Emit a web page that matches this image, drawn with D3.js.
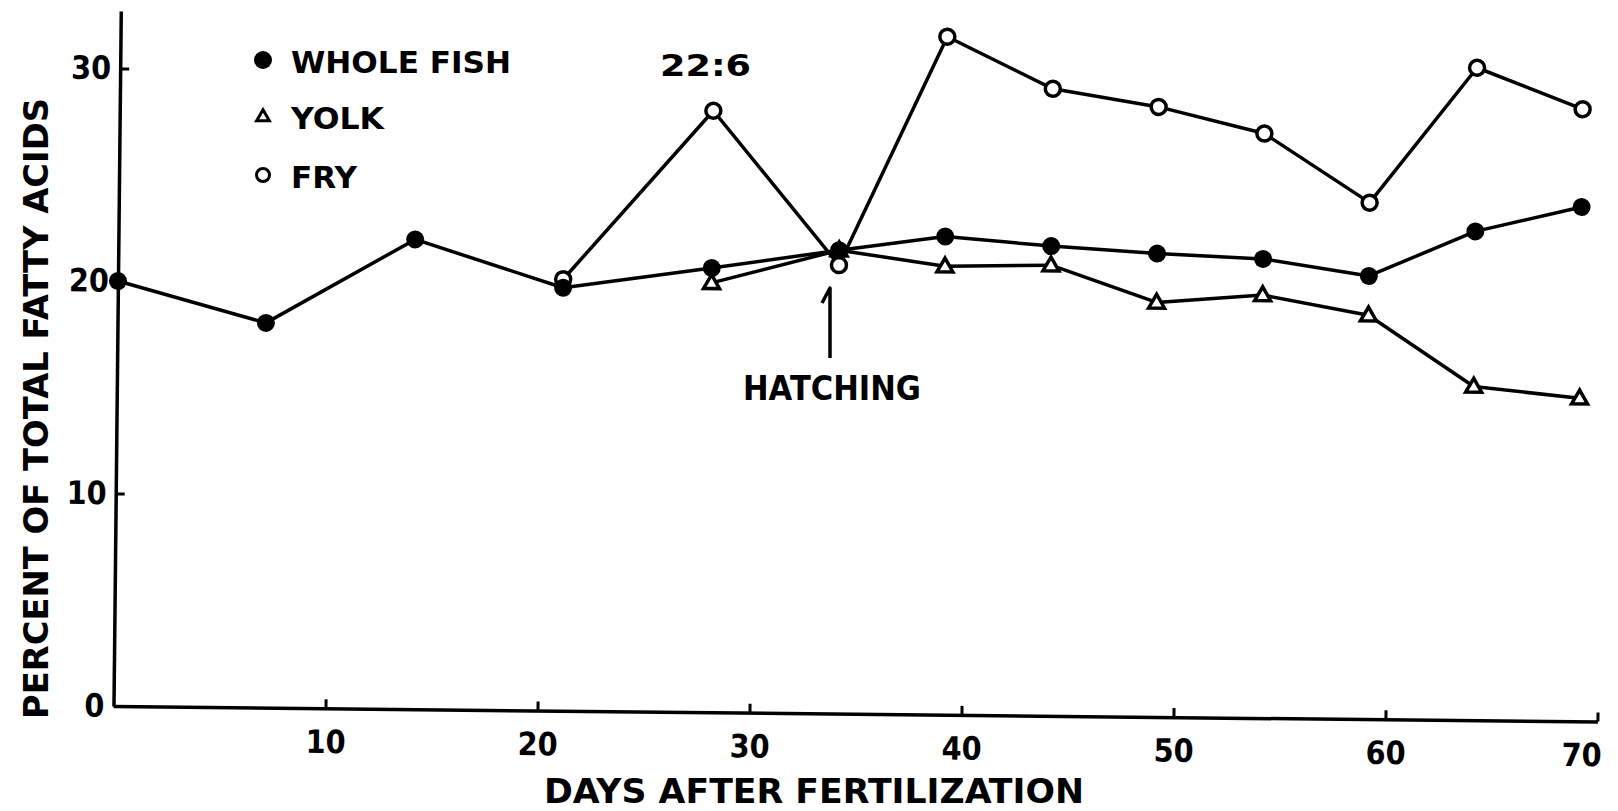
<!DOCTYPE html>
<html>
<head>
<meta charset="utf-8">
<script src="https://cdn.jsdelivr.net/npm/d3@7"></script>
<style>
  body { margin: 0; background: #fff; }
  text { font-family: "DejaVu Sans", sans-serif; font-weight: bold; fill: #000; }
</style>
</head>
<body>
<div id="chart"></div>
<script>
// data (22:6, percent of total fatty acids)
var fishDays = [0, 7, 14, 21, 28, 34, 39, 44, 49, 54, 59, 64, 69];
var wholeFish = [20.0, 18.1, 22.1, 19.9, 20.9, 21.8, 22.5, 22.1, 21.8, 21.6, 20.85, 23.0, 24.2];

var yolkDays = [28, 34, 39, 44, 49, 54, 59, 64, 69];
var yolk = [20.2, 21.8, 21.1, 21.2, 19.5, 19.9, 19.0, 15.7, 15.2];

var fryDays = [21, 28, 34, 39, 44, 49, 54, 59, 64, 69];
var fry = [20.3, 28.3, 21.1, 31.9, 29.5, 28.7, 27.5, 24.3, 30.7, 28.8];

var xTicks = [10, 20, 30, 40, 50, 60, 70];
var yTicks = [0, 10, 20, 30];

var W = 1618, H = 811;
var origin = {x: 113.5, y: 706};
var plotW = 1484, plotH = 695;
var tickFont = "'DejaVu Sans Condensed', 'Liberation Sans Narrow', 'DejaVu Sans', sans-serif";

var svg = d3.select("#chart")
  .append("svg")
    .attr("width", W)
    .attr("height", H);

// the scanned figure is tilted slightly, so the plot is turned with it
var g = svg.append("g")
    .attr("transform", "translate(" + origin.x + "," + origin.y + ") rotate(0.6)");

var x = d3.scaleLinear()
  .domain([0, 70])
  .range([0, plotW]);

var y = d3.scaleLinear()
  .domain([0, 32.7])
  .range([0, -plotH]);

// X axis
var xAxis = g.append("g")
  .call(d3.axisBottom(x).tickValues(xTicks).tickSizeInner(-9).tickSizeOuter(0).tickPadding(22));
xAxis.select(".domain").attr("stroke-width", 3.5);
xAxis.selectAll(".tick line").attr("stroke-width", 3);
xAxis.selectAll("text")
  .style("font-family", tickFont)
  .style("font-weight", "bold")
  .style("font-size", "32px");
// last label sits just left of the axis end
xAxis.selectAll(".tick text")
  .filter(function(d) { return d === 70; })
  .attr("text-anchor", "end")
  .attr("x", 4);

// Y axis
var yAxis = g.append("g")
  .call(d3.axisLeft(y).tickValues(yTicks).tickSizeInner(-9).tickSizeOuter(0).tickPadding(9));
yAxis.select(".domain").attr("stroke-width", 3.5);
yAxis.selectAll(".tick line").attr("stroke-width", 3);
yAxis.selectAll("text")
  .style("font-family", tickFont)
  .style("font-weight", "bold")
  .style("font-size", "32px");

var line = d3.line()
  .x(function(d) { return x(d[0]); })
  .y(function(d) { return y(d[1]); });

var fishPts = d3.zip(fishDays, wholeFish);
var yolkPts = d3.zip(yolkDays, yolk);
var fryPts = d3.zip(fryDays, fry);

[fryPts, yolkPts, fishPts].forEach(function(pts) {
  g.append("path")
    .datum(pts)
    .attr("d", line)
    .attr("fill", "none")
    .attr("stroke", "#000")
    .attr("stroke-width", 3.5)
    .attr("stroke-linejoin", "round");
});

var tri = d3.symbol().type(d3.symbolTriangle).size(110);

// yolk triangles
g.selectAll(".yolk")
  .data(yolkPts)
  .enter()
  .append("path")
    .attr("class", "yolk")
    .attr("d", tri)
    .attr("transform", function(d) { return "translate(" + x(d[0]) + "," + (y(d[1]) + 1) + ")"; })
    .attr("fill", "#fff")
    .attr("stroke", "#000")
    .attr("stroke-width", 3.5);

// fry open circles
g.selectAll(".fry")
  .data(fryPts)
  .enter()
  .append("circle")
    .attr("class", "fry")
    .attr("cx", function(d) { return x(d[0]); })
    .attr("cy", function(d) { return y(d[1]); })
    .attr("r", 7.5)
    .attr("fill", "#fff")
    .attr("stroke", "#000")
    .attr("stroke-width", 3.5);

// whole fish filled circles
g.selectAll(".fish")
  .data(fishPts)
  .enter()
  .append("circle")
    .attr("class", "fish")
    .attr("cx", function(d) { return x(d[0]); })
    .attr("cy", function(d) { return y(d[1]); })
    .attr("r", 9)
    .attr("fill", "#000");

// legend
var legend = svg.append("g");
legend.append("circle")
  .attr("cx", 263).attr("cy", 60).attr("r", 9).attr("fill", "#000");
legend.append("path")
  .attr("d", d3.symbol().type(d3.symbolTriangle).size(70))
  .attr("transform", "translate(263,117)")
  .attr("fill", "#fff").attr("stroke", "#000").attr("stroke-width", 3);
legend.append("circle")
  .attr("cx", 263).attr("cy", 175).attr("r", 6.5)
  .attr("fill", "#fff").attr("stroke", "#000").attr("stroke-width", 3);

legend.append("text").attr("x", 291).attr("y", 73)
  .attr("textLength", 220).attr("lengthAdjust", "spacingAndGlyphs")
  .style("font-size", "31px").text("WHOLE FISH");
legend.append("text").attr("x", 291).attr("y", 129)
  .attr("textLength", 93).attr("lengthAdjust", "spacingAndGlyphs")
  .style("font-size", "31px").text("YOLK");
legend.append("text").attr("x", 291).attr("y", 188)
  .attr("textLength", 66).attr("lengthAdjust", "spacingAndGlyphs")
  .style("font-size", "31px").text("FRY");

// 22:6 label
svg.append("text").attr("x", 660).attr("y", 76)
  .attr("textLength", 91).attr("lengthAdjust", "spacingAndGlyphs")
  .style("font-size", "31px").text("22:6");

// hatching marker
svg.append("path")
  .attr("d", "M822,303 L830,288 L830,358")
  .attr("fill", "none")
  .attr("stroke", "#000")
  .attr("stroke-width", 3.5)
  .attr("stroke-linejoin", "round");
svg.append("text").attr("x", 743).attr("y", 400)
  .attr("textLength", 178).attr("lengthAdjust", "spacingAndGlyphs")
  .style("font-size", "33px").text("HATCHING");

// axis titles
svg.append("text")
  .attr("x", 544).attr("y", 803)
  .attr("textLength", 540).attr("lengthAdjust", "spacingAndGlyphs")
  .style("font-size", "34px")
  .text("DAYS AFTER FERTILIZATION");

svg.append("text")
  .attr("transform", "translate(48,719) rotate(-90)")
  .attr("textLength", 621).attr("lengthAdjust", "spacingAndGlyphs")
  .style("font-size", "34px")
  .text("PERCENT OF TOTAL FATTY ACIDS");
</script>
</body>
</html>
